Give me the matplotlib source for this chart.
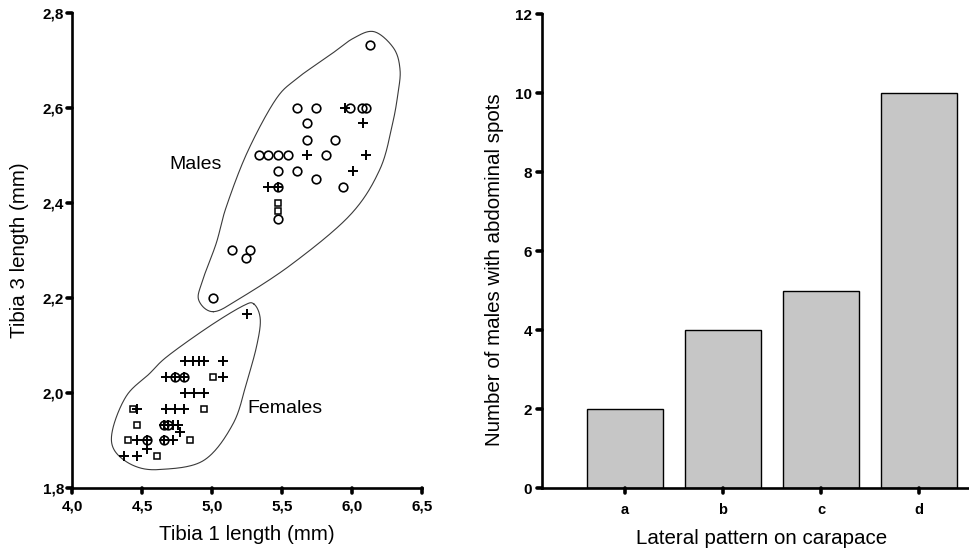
import numpy as np
import matplotlib.pyplot as plt
from matplotlib.markers import MarkerStyle

plt.rcParams['font.family'] = ['Liberation Sans', 'DejaVu Sans']

# ---------------------------------------------------------------------
# Data
# ---------------------------------------------------------------------
# left panel: tibia 1 length (x) vs tibia 3 length (y), three symbol types
circle_x = [6.13, 5.605, 5.745, 5.985, 6.07, 6.10, 5.677, 5.677, 5.88,
            5.336, 5.402, 5.474, 5.541, 5.813, 5.474, 5.61, 5.744, 5.94,
            5.474, 5.474, 5.145, 5.27, 5.243, 5.01,
            4.735, 4.799, 4.656, 4.687, 4.532, 4.656]
circle_y = [2.733, 2.6, 2.6, 2.6, 2.6, 2.6, 2.567, 2.533, 2.533,
            2.5, 2.5, 2.5, 2.5, 2.5, 2.467, 2.467, 2.45, 2.433,
            2.433, 2.367, 2.3, 2.3, 2.283, 2.2,
            2.033, 2.033, 1.933, 1.933, 1.9, 1.9]

plus_x = [5.951, 6.082, 5.677, 6.101, 6.01, 5.402, 5.474,
          5.248,
          4.806, 4.866, 4.909, 4.942, 5.08,
          4.670, 4.735, 4.799, 5.08,
          4.806, 4.873, 4.942,
          4.465, 4.670, 4.735, 4.799,
          4.656, 4.687, 4.723, 4.758, 4.77,
          4.465, 4.532, 4.656, 4.723, 4.537,
          4.37, 4.465]
plus_y = [2.6, 2.567, 2.5, 2.5, 2.467, 2.433, 2.433,
          2.167,
          2.067, 2.067, 2.067, 2.067, 2.067,
          2.033, 2.033, 2.033, 2.033,
          2.0, 2.0, 2.0,
          1.967, 1.967, 1.967, 1.967,
          1.933, 1.933, 1.933, 1.933, 1.917,
          1.9, 1.9, 1.9, 1.9, 1.883,
          1.867, 1.867]

square_x = [5.474, 5.474, 5.009, 4.432, 4.942, 4.465, 4.401, 4.842, 4.604]
square_y = [2.4, 2.383, 2.033, 1.967, 1.967, 1.933, 1.9, 1.9, 1.867]

# outlines drawn round the two groups
male_hull_x = [5.01, 4.905, 4.93, 5.03, 5.10, 5.25, 5.45, 5.60, 5.84, 6.01,
               6.16, 6.30, 6.345, 6.33, 6.29, 6.20, 5.99, 5.58, 5.20]
male_hull_y = [2.171, 2.195, 2.235, 2.315, 2.39, 2.505, 2.615, 2.66, 2.71, 2.746,
               2.76, 2.725, 2.68, 2.63, 2.565, 2.47, 2.375, 2.273, 2.199]
female_hull_x = [5.30, 5.345, 5.32, 5.25, 5.15, 4.94, 4.63, 4.44, 4.30, 4.29,
                 4.39, 4.55, 4.68, 4.98, 5.22]
female_hull_y = [2.187, 2.155, 2.10, 2.025, 1.935, 1.858, 1.839, 1.847, 1.88, 1.925,
                 1.995, 2.04, 2.077, 2.14, 2.183]

x_ticks = [4.0, 4.5, 5.0, 5.5, 6.0, 6.5]
x_tick_labels = ['4,0', '4,5', '5,0', '5,5', '6,0', '6,5']
y_ticks = [1.8, 2.0, 2.2, 2.4, 2.6, 2.8]
y_tick_labels = ['1,8', '2,0', '2,2', '2,4', '2,6', '2,8']

# right panel
patterns = ['a', 'b', 'c', 'd']
males_with_spots = [2, 4, 5, 10]
count_ticks = [0, 2, 4, 6, 8, 10, 12]


def closed_spline(xs, ys, n=30):
    # smooth closed Catmull-Rom curve through the outline points
    p = np.column_stack([xs, ys])
    k = len(p)
    t = np.linspace(0, 1, n, endpoint=False)[:, None]
    segs = []
    for i in range(k):
        p0, p1, p2, p3 = p[(i - 1) % k], p[i], p[(i + 1) % k], p[(i + 2) % k]
        segs.append(0.5 * (2 * p1 + (-p0 + p2) * t
                           + (2 * p0 - 5 * p1 + 4 * p2 - p3) * t ** 2
                           + (-p0 + 3 * p1 - 3 * p2 + p3) * t ** 3))
    segs.append(segs[0][:1])
    out = np.vstack(segs)
    return out[:, 0], out[:, 1]


def style_axes(ax):
    for side in ['top', 'right']:
        ax.spines[side].set_visible(False)
    for side in ['left', 'bottom']:
        ax.spines[side].set_linewidth(1.9)
    ax.tick_params(length=3.5, width=2.6, color='black')
    for line in ax.xaxis.get_ticklines() + ax.yaxis.get_ticklines():
        line.set_marker(MarkerStyle(line.get_marker(), capstyle='round'))


fig = plt.figure(figsize=(9.69, 5.52), dpi=100)

# ---------------------------------------------------------------------
# Left: scatter
# ---------------------------------------------------------------------
ax1 = fig.add_axes([0.0746, 0.1159, 0.3606, 0.8611])
ax1.set_xlim(4.0, 6.5)
ax1.set_ylim(1.8, 2.8)

hx, hy = closed_spline(male_hull_x, male_hull_y)
ax1.plot(hx, hy, color='#3a3a3a', lw=0.8)
hx, hy = closed_spline(female_hull_x, female_hull_y)
ax1.plot(hx, hy, color='#3a3a3a', lw=0.8)

ax1.plot(circle_x, circle_y, 'o', ls='none', ms=6.2, mfc='none', mec='black', mew=1.2)
ax1.plot(plus_x, plus_y, '+', ls='none', ms=7.5, mec='black', mew=1.4)
ax1.plot(square_x, square_y, 's', ls='none', ms=4.3, mfc='none', mec='black', mew=1.1)

ax1.text(4.88, 2.48, 'Males', fontsize=14, ha='center', va='center')
ax1.text(5.25, 1.968, 'Females', fontsize=14, ha='left', va='center')

ax1.set_xticks(x_ticks)
ax1.set_xticklabels(x_tick_labels, fontsize=11, fontweight='bold')
ax1.set_yticks(y_ticks)
ax1.set_yticklabels(y_tick_labels, fontsize=11, fontweight='bold')
ax1.tick_params(axis='x', pad=5)
ax1.tick_params(axis='y', pad=2.5)
style_axes(ax1)

ax1.set_xlabel('Tibia 1 length (mm)', fontsize=14.8)
ax1.xaxis.set_label_coords(0.5, -0.078)
ax1.xaxis.label.set_va('top')
ax1.set_ylabel('Tibia 3 length (mm)', fontsize=14.8)
ax1.yaxis.set_label_coords(-0.125, 0.5)

# ---------------------------------------------------------------------
# Right: bar chart
# ---------------------------------------------------------------------
ax2 = fig.add_axes([0.5590, 0.1159, 0.4399, 0.8587])
pos = np.arange(1, len(patterns) + 1)
ax2.bar(pos, males_with_spots, width=0.78, color='#c6c6c6',
        edgecolor='black', linewidth=1.0)
ax2.set_xlim(0.15, 4.5)
ax2.set_ylim(0, 12)

ax2.set_xticks(pos)
ax2.set_xticklabels(patterns, fontsize=10.5, fontweight='bold')
ax2.set_yticks(count_ticks)
ax2.set_yticklabels([str(v) for v in count_ticks], fontsize=11, fontweight='bold')
ax2.tick_params(axis='x', pad=7)
ax2.tick_params(axis='y', pad=3.5)
style_axes(ax2)

ax2.set_xlabel('Lateral pattern on carapace', fontsize=14.8)
ax2.xaxis.set_label_coords(0.516, -0.087)
ax2.xaxis.label.set_va('top')
ax2.set_ylabel('Number of males with abdominal spots', fontsize=14.8)
ax2.yaxis.set_label_coords(-0.088, 0.46)

fig.savefig('out.png', dpi=100)
